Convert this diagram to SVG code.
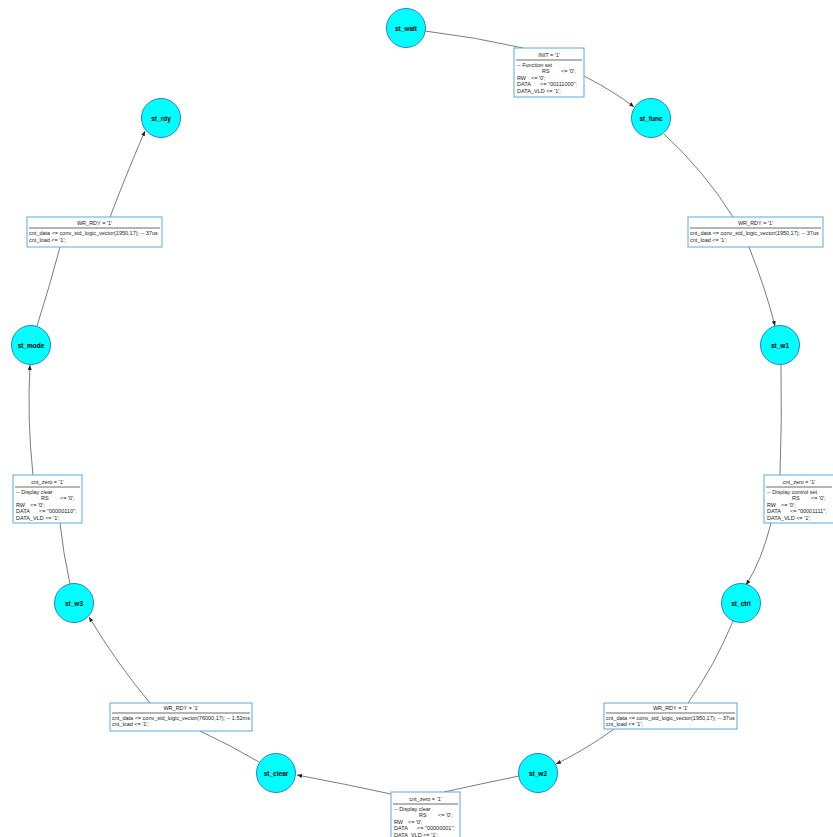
<svg xmlns="http://www.w3.org/2000/svg" width="833" height="837" viewBox="0 0 833 837">
<style>
.bg{fill:#fff}
.node circle{fill:#00ffff;stroke:#2a7fd4;stroke-width:1}
.nl{font-family:"Liberation Sans",Arial,sans-serif;font-weight:bold;font-size:6.5px;fill:#000;text-anchor:middle}
.box{fill:#fff;stroke:#5aa9e0;stroke-width:1}
.t{font-family:"Liberation Sans",Arial,sans-serif;font-size:5.5px;fill:#222}
.hd{text-anchor:middle}
.rule{stroke:#444;stroke-width:0.8}
.edge{fill:none;stroke:#444;stroke-width:0.7}
.arr{marker-end:url(#ah)}
</style>
<defs>
<marker id="ah" markerUnits="userSpaceOnUse" markerWidth="6" markerHeight="5" refX="5" refY="2" orient="auto">
<path d="M0,0 L5,2 L0,4 z" fill="#222"/>
</marker>
</defs>
<rect class="bg" x="0" y="0" width="833" height="837"/>

<g id="connectors">
<path class="edge" d="M425,31 Q475,37 523,48"/>
<path class="edge arr" d="M584,76 Q615,92 634,107"/>
<path class="edge" d="M664,134 Q705,172 733,217"/>
<path class="edge arr" d="M749,247 Q766,290 775,326"/>
<path class="edge" d="M781,364 Q782,420 780,475"/>
<path class="edge arr" d="M771,523 Q762,560 746,585"/>
<path class="edge" d="M733,621 Q715,665 688,703"/>
<path class="edge arr" d="M614,729 Q585,750 556,764"/>
<path class="edge" d="M519,776 Q480,784 444,792"/>
<path class="edge arr" d="M391,794 Q345,784 297,775"/>
<path class="edge" d="M259,762 Q230,745 200,731"/>
<path class="edge arr" d="M150,703 Q118,665 89,617"/>
<path class="edge" d="M70,584 Q63,552 60,523"/>
<path class="edge arr" d="M33,475 Q27,420 30,365"/>
<path class="edge" d="M37,326 Q50,285 60,247"/>
<path class="edge arr" d="M110,217 Q128,170 145,131"/>
</g>

<g id="st_wait" class="node"><circle cx="406" cy="28" r="19.5"/><text class="nl" x="406" y="30.5">st_wait</text></g>
<g id="st_func" class="node"><circle cx="651" cy="118" r="19.5"/><text class="nl" x="651" y="120.5">st_func</text></g>
<g id="st_w1" class="node"><circle cx="780" cy="345" r="19.5"/><text class="nl" x="780" y="347.5">st_w1</text></g>
<g id="st_ctrl" class="node"><circle cx="741" cy="603" r="19.5"/><text class="nl" x="741" y="605.5">st_ctrl</text></g>
<g id="st_w2" class="node"><circle cx="538" cy="773" r="19.5"/><text class="nl" x="538" y="775.5">st_w2</text></g>
<g id="st_clear" class="node"><circle cx="276" cy="773" r="19.5"/><text class="nl" x="276" y="775.5">st_clear</text></g>
<g id="st_w3" class="node"><circle cx="74" cy="603" r="19.5"/><text class="nl" x="74" y="605.5">st_w3</text></g>
<g id="st_mode" class="node"><circle cx="31" cy="345" r="19.5"/><text class="nl" x="31" y="347.5">st_mode</text></g>
<g id="st_rdy" class="node"><circle cx="161" cy="118" r="19.5"/><text class="nl" x="161" y="120.5">st_rdy</text></g>

<g id="label_wait_func">
<rect class="box" x="514" y="48" width="70" height="49"/>
<text class="t hd" x="549" y="57">INIT = '1'</text>
<line class="rule" x1="516" y1="60" x2="582" y2="60"/>
<text class="t" x="517" y="66.5">-- Function set</text>
<text class="t" x="542" y="73">RS</text><text class="t" x="561" y="73">&lt;= '0';</text>
<text class="t" x="517" y="79.5">RW</text><text class="t" x="531" y="79.5">&lt;= '0';</text>
<text class="t" x="517" y="86">DATA</text><text class="t" x="540" y="86">&lt;= "00111000";</text>
<text class="t" x="517" y="92.5">DATA_VLD &lt;= '1';</text>
</g>

<g id="label_func_w1">
<rect class="box" x="688" y="217" width="135" height="30"/>
<text class="t hd" x="755.5" y="225">WR_RDY = '1'</text>
<line class="rule" x1="690" y1="228" x2="821" y2="228"/>
<text class="t" x="690" y="234.5">cnt_data &lt;= conv_std_logic_vector(1950,17); -- 37us</text>
<text class="t" x="690" y="242">cnt_load &lt;= '1';</text>
</g>

<g id="label_w1_ctrl">
<rect class="box" x="764" y="475" width="70" height="48"/>
<text class="t hd" x="799" y="484">cnt_zero = '1'</text>
<line class="rule" x1="766" y1="487" x2="832" y2="487"/>
<text class="t" x="767" y="493.5">-- Display control set</text>
<text class="t" x="792" y="500">RS</text><text class="t" x="811" y="500">&lt;= '0';</text>
<text class="t" x="767" y="506.5">RW</text><text class="t" x="781" y="506.5">&lt;= '0';</text>
<text class="t" x="767" y="513">DATA</text><text class="t" x="790" y="513">&lt;= "00001111";</text>
<text class="t" x="767" y="519.5">DATA_VLD &lt;= '1';</text>
</g>

<g id="label_ctrl_w2">
<rect class="box" x="604" y="703" width="133" height="26"/>
<text class="t hd" x="670.5" y="710">WR_RDY = '1'</text>
<line class="rule" x1="606" y1="713" x2="735" y2="713"/>
<text class="t" x="606" y="719.5">cnt_data &lt;= conv_std_logic_vector(1950,17); -- 37us</text>
<text class="t" x="606" y="726">cnt_load &lt;= '1';</text>
</g>

<g id="label_w2_clear">
<rect class="box" x="391" y="792" width="69" height="48"/>
<text class="t hd" x="425.5" y="801">cnt_zero = '1'</text>
<line class="rule" x1="393" y1="804" x2="458" y2="804"/>
<text class="t" x="394" y="810.5">-- Display clear</text>
<text class="t" x="419" y="817">RS</text><text class="t" x="438" y="817">&lt;= '0';</text>
<text class="t" x="394" y="823.5">RW</text><text class="t" x="408" y="823.5">&lt;= '0';</text>
<text class="t" x="394" y="830">DATA</text><text class="t" x="417" y="830">&lt;= "00000001";</text>
<text class="t" x="394" y="836.5">DATA_VLD &lt;= '1';</text>
</g>

<g id="label_clear_w3">
<rect class="box" x="110" y="703" width="142" height="28"/>
<text class="t hd" x="181" y="710">WR_RDY = '1'</text>
<line class="rule" x1="112" y1="713" x2="250" y2="713"/>
<text class="t" x="112" y="719.5">cnt_data &lt;= conv_std_logic_vector(76000,17); -- 1.52ms</text>
<text class="t" x="112" y="726">cnt_load &lt;= '1';</text>
</g>

<g id="label_w3_mode">
<rect class="box" x="13" y="475" width="69" height="48"/>
<text class="t hd" x="47.5" y="484">cnt_zero = '1'</text>
<line class="rule" x1="15" y1="487" x2="80" y2="487"/>
<text class="t" x="16" y="493.5">-- Display clear</text>
<text class="t" x="41" y="500">RS</text><text class="t" x="60" y="500">&lt;= '0';</text>
<text class="t" x="16" y="506.5">RW</text><text class="t" x="30" y="506.5">&lt;= '0';</text>
<text class="t" x="16" y="513">DATA</text><text class="t" x="39" y="513">&lt;= "00000110";</text>
<text class="t" x="16" y="519.5">DATA_VLD &lt;= '1';</text>
</g>

<g id="label_mode_rdy">
<rect class="box" x="27" y="217" width="135" height="30"/>
<text class="t hd" x="94.5" y="225">WR_RDY = '1'</text>
<line class="rule" x1="29" y1="228" x2="160" y2="228"/>
<text class="t" x="29" y="234.5">cnt_data &lt;= conv_std_logic_vector(1950,17); -- 37us</text>
<text class="t" x="29" y="242">cnt_load &lt;= '1';</text>
</g>
</svg>
